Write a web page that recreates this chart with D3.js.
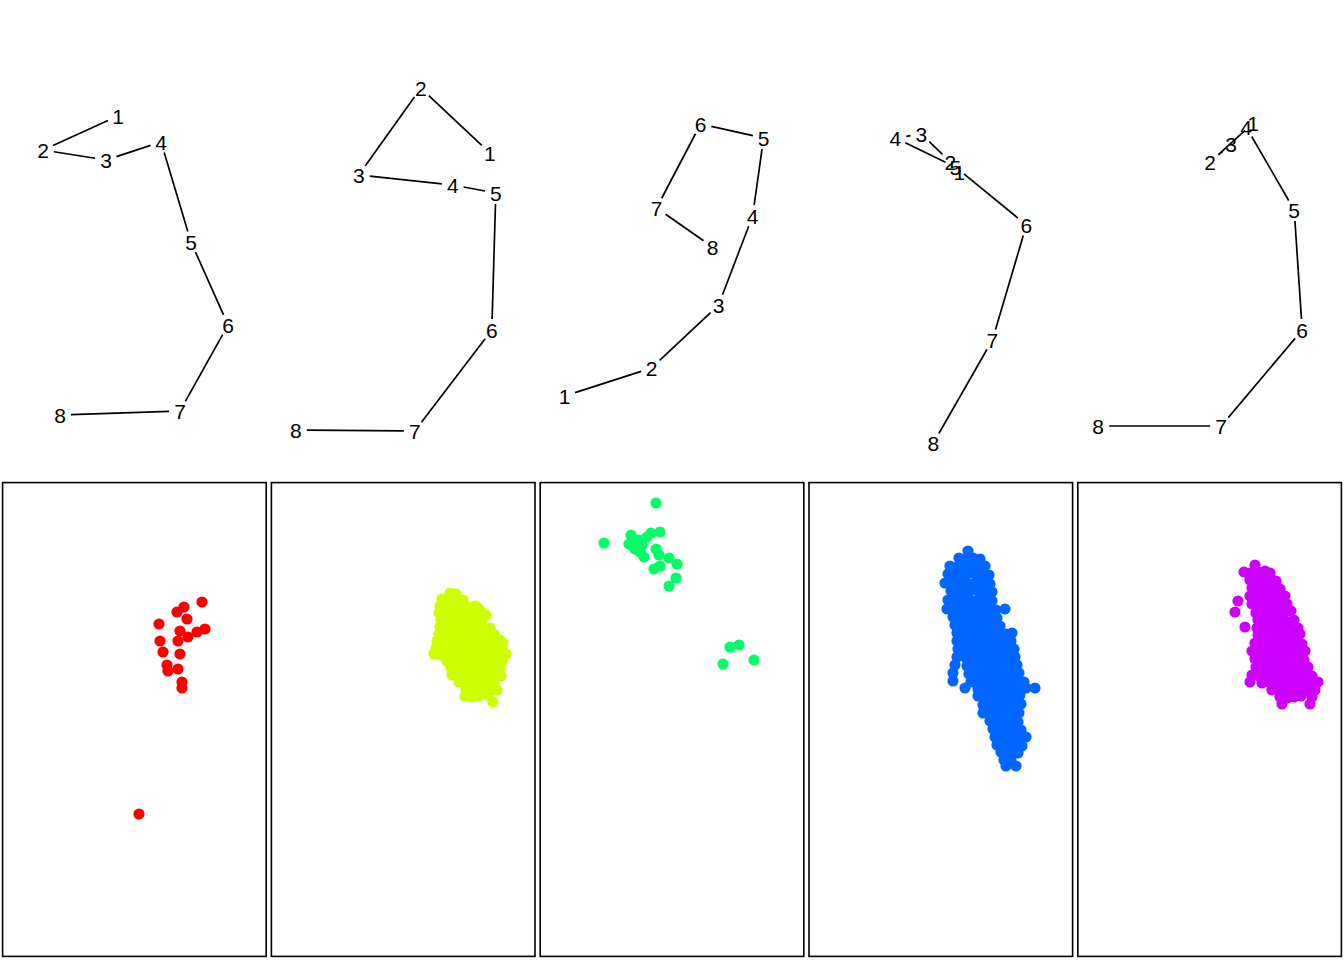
<!DOCTYPE html>
<html><head><meta charset="utf-8">
<script src="https://cdnjs.cloudflare.com/ajax/libs/d3/7.8.5/d3.min.js"></script>
<style>html,body{margin:0;padding:0;background:#fff;}svg{display:block;}</style>
</head><body>
<script>
// ---- data ----
const labels = ["1","2","3","4","5","6","7","8"];
const colors = ["#FF0000","#CCFF00","#00FF66","#0066FF","#CC00FF"];

// top row paths: [x, y] (x from panel's left, y upward)
const path1 = [[118,364],[43,330],[106,320],[161,338],[191,238],[228,155],[180,69],[60,65]];
const path2 = [[221,327],[152,392],[90,305],[184,295],[227,287],[223,150],[146,49],[27,50]];
const path3 = [[27,84],[114,112],[181,175],[215,264],[226,342],[163,356],[119,272],[175,233]];
const path4 = [[153,308],[144,318],[115,346],[89,342],[149,313],[220,255],[186,140],[127,37]];
const path5 = [[178,357],[135,318],[156,336],[171,353],[219,270],[227,150],[146,54],[23,54]];

// bottom row scatter: [x, y] (x from panel's left, y downward from box top)
const redPts = [[202,119],[184,124],[177,129],[187,136],[159,141],[180,148],[197,149],[205,146],[188,154],[178,158],[160,158],[163,169],[180,171],[167,182],[168,188],[178,186],[182,199],[182,205],[139,331]];

const yellowPts = [
 [181,110],[187,111],
 [173,116],[180,117],[187,116],[194,117],
 [171,123],[178,124],[185,123],[192,122],[199,124],[206,123],[209,125],
 [170,130],[177,131],[184,130],[191,129],[198,131],[205,130],[212,129],[217,132],
 [172,137],[179,138],[186,137],[193,136],[200,138],[207,137],[213,139],
 [171,144],[178,145],[185,144],[192,143],[199,145],[206,144],[213,143],[221,145],
 [170,151],[177,152],[184,151],[191,150],[198,152],[205,151],[212,150],[219,152],[225,151],
 [168,158],[175,159],[182,158],[189,157],[196,159],[203,158],[210,157],[217,159],[224,158],[231,157],[234,160],
 [167,165],[173,166],[180,165],[187,164],[194,166],[201,165],[208,164],[215,166],[222,165],[229,164],[233,166],
 [165,171],[172,172],[179,171],[186,170],[193,172],[200,171],[207,170],[214,172],[221,171],[228,170],[237,171],
 [178,178],[185,179],[192,178],[199,177],[206,179],[213,178],[220,177],[227,179],[233,178],
 [182,185],[189,186],[196,185],[203,184],[210,186],[217,185],[224,184],[231,186],
 [183,192],[190,193],[197,192],[204,191],[211,193],[218,192],[225,191],[232,193],
 [190,199],[197,200],[204,199],[211,198],[218,200],[225,199],
 [197,206],[204,207],[211,206],[218,205],[228,207],
 [196,213],[203,214],[210,213],[219,212],
 [224,219]];

const greenPts = [[118,20],[66,60],[93,52],[91,61],[101,57],[97,66],[104,62],[109,54],[113,50],[122,49],[102,69],[106,74],[118,66],[121,72],[131,75],[139,81],[122,83],[116,86],[138,95],[131,103],[192,164],[201,162],[185,181],[216,177]];

const bluePts = [
 [162,68],
 [153,75],[160,76],[167,75],[174,76],
 [144,83],[151,84],[158,83],[165,82],[172,84],[179,83],
 [142,91],[149,92],[156,91],[163,90],[170,92],[177,91],[183,92],
 [139,100],[146,101],[153,100],[160,99],[167,101],[174,100],[181,99],[184,101],
 [145,108],[152,109],[159,108],[166,107],[173,109],[180,108],[186,109],
 [142,117],[149,118],[156,117],[163,116],[170,118],[177,117],[184,116],[186,118],
 [141,126],[148,127],[155,126],[162,125],[169,127],[176,126],[183,125],[190,127],[199,126],
 [147,134],[154,135],[161,134],[168,133],[175,135],[182,134],[189,133],[191,135],
 [149,142],[156,143],[163,142],[170,141],[177,143],[184,142],[191,141],[194,143],
 [151,150],[158,151],[165,150],[172,149],[179,151],[186,150],[193,149],[200,151],[206,150],
 [151,158],[158,159],[165,158],[172,157],[179,159],[186,158],[193,157],[200,159],[205,158],
 [152,166],[159,167],[166,166],[173,165],[180,167],[187,166],[194,165],[201,167],[208,166],
 [151,174],[160,175],[167,174],[174,173],[181,175],[188,174],[195,173],[202,175],[209,174],
 [149,182],[161,183],[168,182],[175,181],[182,183],[189,182],[196,181],[203,183],[211,182],
 [147,190],[163,191],[170,190],[177,189],[184,191],[191,190],[198,189],[205,191],[213,190],
 [147,198],[165,199],[172,198],[179,197],[186,199],[193,198],[200,197],[207,199],[214,198],[218,199],
 [159,205],[172,206],[179,205],[186,204],[193,206],[200,205],[207,204],[214,206],[220,205],[229,205],
 [172,213],[179,214],[186,213],[193,212],[200,214],[207,213],[214,212],
 [177,222],[184,223],[191,222],[198,221],[205,223],[212,222],[215,221],
 [177,230],[185,231],[192,230],[199,229],[206,231],[213,230],
 [184,238],[191,239],[198,238],[205,237],[212,239],
 [187,246],[194,247],[201,246],[208,245],[215,247],
 [189,254],[196,255],[203,254],[210,253],[217,255],[220,254],
 [191,262],[198,263],[205,262],[212,261],[216,263],
 [195,269],[202,270],[209,269],[212,270],
 [198,277],[205,277],
 [200,283],[210,283]];

const magentaPts = [
 [180,82],
 [169,89],[176,90],[183,89],[190,88],[195,90],
 [175,97],[182,98],[189,97],[196,96],[201,98],
 [177,105],[184,106],[191,105],[198,104],[205,106],
 [175,113],[182,114],[189,113],[196,112],[203,114],[210,113],
 [163,118],
 [177,121],[184,122],[191,121],[198,120],[205,122],[212,121],
 [160,129],[181,130],[188,129],[195,128],[202,130],[209,129],[216,128],
 [183,137],[190,138],[197,137],[204,136],[211,138],[219,137],
 [170,144],[182,145],[189,144],[196,143],[203,145],[210,144],[217,143],[223,145],
 [183,152],[190,153],[197,152],[204,151],[211,153],[218,152],[225,151],
 [180,160],[187,161],[194,160],[201,159],[208,161],[215,160],[222,159],[227,161],
 [177,168],[184,169],[191,168],[198,167],[205,169],[212,168],[219,167],[226,169],[230,168],
 [180,176],[187,177],[194,176],[201,175],[208,177],[215,176],[222,175],[229,177],
 [181,184],[188,185],[195,184],[202,183],[209,185],[216,184],[223,183],[230,185],[233,184],
 [177,192],[184,193],[191,192],[198,191],[205,193],[212,192],[219,191],[226,193],[233,192],[237,193],
 [175,199],[187,200],[194,199],[201,198],[208,200],[215,199],[222,198],[229,200],[236,199],[243,199],
 [197,207],[204,208],[211,207],[218,206],[225,208],[232,207],[240,207],
 [205,214],[212,215],[219,214],[226,213],[237,214],
 [207,221],[235,221]];

const paths = [path1, path2, path3, path4, path5];
const scatters = [redPts, yellowPts, greenPts, bluePts, magentaPts];

// ---- drawing ----
const W = 1344, H = 960, colW = W / 5;
const svg = d3.select("body").append("svg").attr("width", W).attr("height", H);
svg.append("rect").attr("width", W).attr("height", H).attr("fill", "#fff");

const gap = 11;
const colOff = [0, 269, 538, 806, 1075];

paths.forEach((pts, i) => {
  const x = d3.scaleLinear().domain([0, colW]).range([i * colW, (i + 1) * colW]);
  const y = d3.scaleLinear().domain([0, 480]).range([480, 0]);
  const g = svg.append("g");
  const P = pts.map(d => [x(d[0]), y(d[1])]);
  const segs = [];
  for (let k = 0; k < P.length - 1; k++) {
    const [x1, y1] = P[k], [x2, y2] = P[k + 1];
    const dx = x2 - x1, dy = y2 - y1, L = Math.hypot(dx, dy);
    if (L > 2 * gap) {
      const ux = dx / L, uy = dy / L;
      segs.push([x1 + ux * gap, y1 + uy * gap, x2 - ux * gap, y2 - uy * gap]);
    }
  }
  g.selectAll("line").data(segs).join("line")
    .attr("x1", d => d[0]).attr("y1", d => d[1])
    .attr("x2", d => d[2]).attr("y2", d => d[3])
    .attr("stroke", "#000").attr("stroke-width", 1.7);
  g.selectAll("text").data(pts).join("text")
    .attr("x", d => x(d[0])).attr("y", d => y(d[1]))
    .attr("dy", "0.36em")
    .attr("text-anchor", "middle")
    .attr("font-family", "'Liberation Sans', Arial, Helvetica, sans-serif")
    .attr("font-size", 21)
    .text((d, k) => labels[k]);
});

scatters.forEach((pts, i) => {
  const left = i * colW;
  const x = d3.scaleLinear().domain([0, colW]).range([colOff[i], colOff[i] + colW]);
  const y = d3.scaleLinear().domain([0, 474]).range([483, 957]);
  const g = svg.append("g");
  g.append("rect")
    .attr("x", left + 2.6).attr("y", 482.6)
    .attr("width", 263.6).attr("height", 473.8)
    .attr("fill", "none").attr("stroke", "#000").attr("stroke-width", 1.6);
  g.selectAll("circle").data(pts).join("circle")
    .attr("cx", d => x(d[0])).attr("cy", d => y(d[1]))
    .attr("r", 5.6)
    .attr("fill", colors[i]);
});
</script>
</body></html>
